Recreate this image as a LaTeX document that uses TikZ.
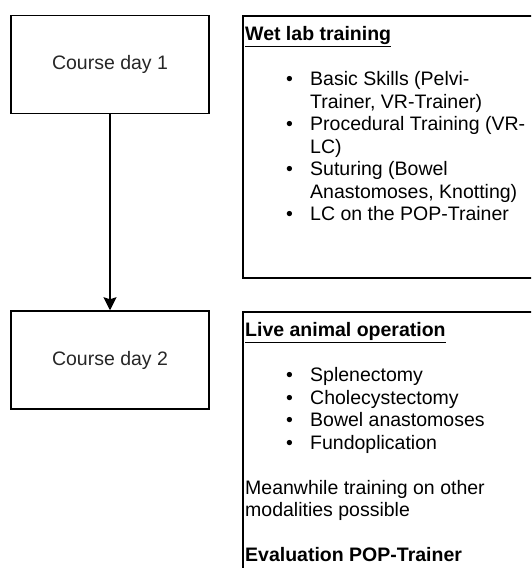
\documentclass[tikz,border=0pt]{standalone}
\usepackage{fontspec}
\setmainfont{Liberation Sans}
\usetikzlibrary{positioning}
\usetikzlibrary{arrows.meta}

\newcommand{\listbullet}[1]{\hspace*{41pt}\makebox[24pt][l]{\textbullet}#1}
\newcommand{\listcont}[1]{\hspace*{65pt}#1}

\begin{document}
\begin{tikzpicture}[x=1pt,y=-1pt]
					\tikzstyle{dayblock}=[draw,line width=1.5pt,minimum width=198pt,minimum height=98pt,text=black!85,font=\fontsize{19.5pt}{22.5pt}\selectfont]
					\tikzstyle{panel}=[draw,line width=1.5pt,anchor=north west,minimum width=400pt,inner sep=0pt]
					\tikzstyle{listtext}=[anchor=north west,inner sep=0pt,align=left,font=\fontsize{19.5pt}{22.5pt}\selectfont]
					\useasboundingbox (0,0) rectangle (531,568);
					\clip (0,0) rectangle (531,568);
					\node (day1) [dayblock] at (110,64.5) {Course day 1};
					\node (day2) [dayblock] at (110,360) {Course day 2};
					\draw[-{Stealth[length=13pt,width=13pt,inset=2pt]}, line width=1.5pt] (day1) -- (day2);
					\node (wetbox) [panel,minimum height=262pt] at (242,15) {};
					\node (livebox) [panel,minimum height=300pt] at (242,311) {};
					\node (wettext) [listtext] at ([xshift=3pt,yshift=-11.5pt]wetbox.north west) {%
						\textbf{\underline{Wet lab training}}\\[22.5pt]
						\listbullet{Basic Skills (Pelvi-}\\
						\listcont{Trainer, VR-Trainer)}\\
						\listbullet{Procedural Training (VR-}\\
						\listcont{LC)}\\
						\listbullet{Suturing (Bowel}\\
						\listcont{Anastomoses, Knotting)}\\
						\listbullet{LC on the POP-Trainer}};
					\node (livetext) [listtext] at ([xshift=3pt,yshift=-11.5pt]livebox.north west) {%
						\textbf{\underline{Live animal operation}}\\[22.5pt]
						\listbullet{Splenectomy}\\
						\listbullet{Cholecystectomy}\\
						\listbullet{Bowel anastomoses}\\
						\listbullet{Fundoplication}\\[22.5pt]
						Meanwhile training on other\\
						modalities possible\\[22.5pt]
						\textbf{Evaluation POP-Trainer}};
				\end{tikzpicture}
\end{document}
